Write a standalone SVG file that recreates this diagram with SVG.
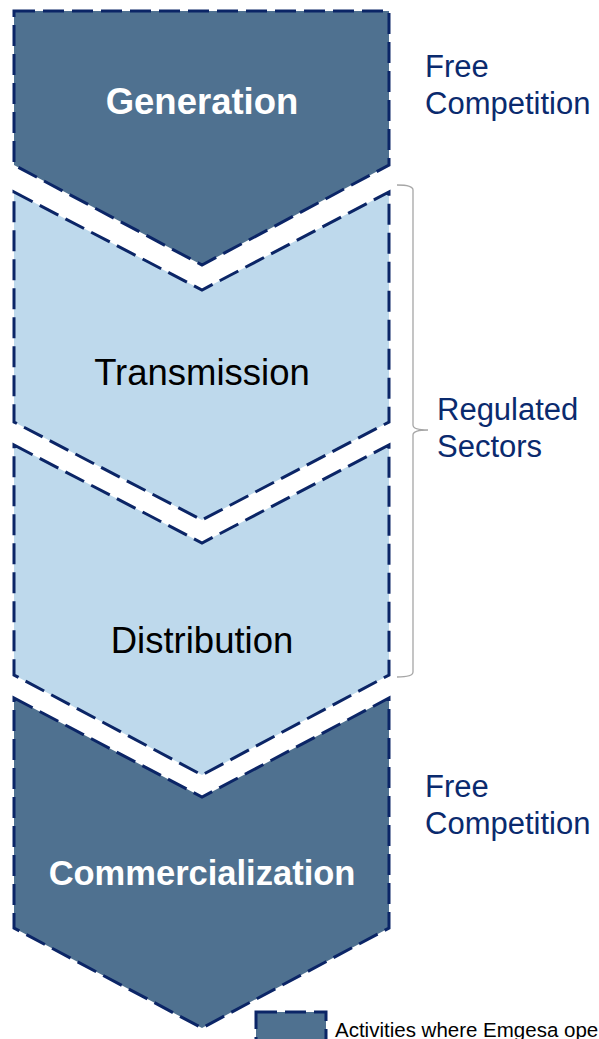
<svg xmlns="http://www.w3.org/2000/svg" width="599" height="1039" viewBox="0 0 599 1039">
<style>
.shape{stroke:#0b2566;stroke-width:3;stroke-dasharray:21 8;stroke-linejoin:miter}
.dark{fill:#4f7190}
.light{fill:#bed9ec}
.lbl{font-family:"Liberation Sans",Arial,sans-serif;text-anchor:middle}
.side{font-family:"Liberation Sans",Arial,sans-serif;fill:#0a2a6e;font-size:31px}
</style>
<rect width="599" height="1039" fill="#ffffff"/>
<g id="generation">
<path class="shape dark" d="M14,11 H389 V165 L202,265 L14,165 Z"/>
<text class="lbl" x="202" y="114" font-size="36.5" font-weight="bold" fill="#ffffff">Generation</text>
</g>
<g id="transmission">
<path class="shape light" d="M14,192 L202,290 L389,192 V422 L202,520 L14,422 Z"/>
<text class="lbl" x="202" y="385" font-size="36.5" fill="#000000">Transmission</text>
</g>
<g id="distribution">
<path class="shape light" d="M14,445 L202,543 L389,445 V675 L202,775 L14,675 Z"/>
<text class="lbl" x="202" y="653" font-size="36.5" fill="#000000">Distribution</text>
</g>
<g id="commercialization">
<path class="shape dark" d="M14,698 L202,797 L389,698 V928 L202,1028 L14,928 Z"/>
<text class="lbl" x="202" y="885" font-size="34.5" font-weight="bold" fill="#ffffff">Commercialization</text>
</g>
<g id="connectors">
<path d="M397,185 Q413,185 413,190 V425 Q413,430 428,430 Q413,430 413,435 V672 Q413,677 397,677" fill="none" stroke="#a6a6a6" stroke-width="1.3"/>
</g>
<g id="labels">
<text class="side" x="425" y="77">Free</text>
<text class="side" x="425" y="114">Competition</text>
<text class="side" x="437" y="420">Regulated</text>
<text class="side" x="437" y="457">Sectors</text>
<text class="side" x="425" y="797">Free</text>
<text class="side" x="425" y="834">Competition</text>
</g>
<g id="legend">
<rect class="shape dark" x="256" y="1012" width="70" height="40"/>
<text x="335" y="1037" font-family="'Liberation Sans',Arial,sans-serif" font-size="20.5" fill="#000000">Activities where Emgesa operates</text>
</g>
</svg>
